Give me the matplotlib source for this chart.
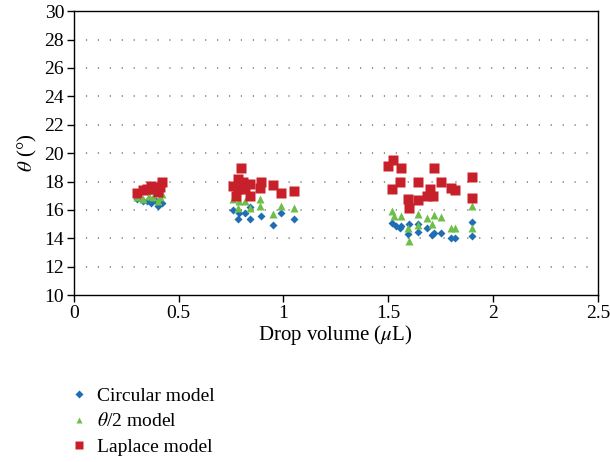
import numpy as np
from matplotlib import pyplot as plt

plt.rcParams['font.family'] = ['Liberation Serif', 'DejaVu Serif']
plt.rcParams['mathtext.fontset'] = 'stix'

# Circular model
circ_x = [0.30, 0.33, 0.35, 0.37, 0.39, 0.40, 0.42,
          0.76, 0.79, 0.816, 0.84, 0.784, 0.84, 0.895, 0.951, 0.99, 1.05,
          1.516, 1.535, 1.56, 1.555, 1.60, 1.64, 1.595, 1.643, 1.683, 1.707,
          1.72, 1.754, 1.80, 1.82, 1.90, 1.90]
circ_y = [16.8, 16.6, 16.6, 16.5, 16.6, 16.3, 16.5,
          15.98, 15.82, 15.82, 16.2, 15.35, 15.35, 15.58, 14.95, 15.82, 15.35,
          15.1, 14.9, 14.88, 14.7, 15.0, 15.0, 14.3, 14.45, 14.76, 14.22,
          14.4, 14.4, 14.05, 14.0, 15.16, 14.17]

# theta/2 model
half_x = [0.30, 0.33, 0.36, 0.38, 0.40, 0.41, 0.42,
          0.76, 0.79, 0.816, 0.784, 0.84, 0.888, 0.89, 0.951, 0.99, 1.05,
          1.516, 1.53, 1.56, 1.64, 1.683, 1.72, 1.75, 1.595, 1.64, 1.707,
          1.60, 1.80, 1.82, 1.90, 1.90]
half_y = [16.9, 16.8, 17.0, 16.9, 16.6, 16.9, 17.1,
          16.76, 16.64, 16.64, 16.17, 16.17, 16.76, 16.3, 15.7, 16.3, 16.13,
          15.95, 15.6, 15.58, 15.7, 15.46, 15.63, 15.53, 14.76, 14.93, 15.0,
          13.8, 14.76, 14.76, 16.29, 14.76]

# Laplace model
lap_x = [0.30, 0.33, 0.35, 0.37, 0.38, 0.40, 0.41, 0.42,
         0.80, 0.784, 0.76, 0.808, 0.84, 0.784, 0.817, 0.776, 0.84, 0.895,
         0.888, 0.951, 0.99, 1.05,
         1.523, 1.50, 1.56, 1.72, 1.555, 1.516, 1.64, 1.75, 1.70, 1.80,
         1.82, 1.90, 1.595, 1.64, 1.683, 1.714, 1.60, 1.90]
lap_y = [17.2, 17.4, 17.5, 17.7, 17.5, 17.3, 17.6, 18.0,
         18.95, 18.18, 17.7, 17.94, 17.8, 17.47, 17.47, 17.0, 17.0, 17.94,
         17.58, 17.77, 17.23, 17.35,
         19.54, 19.07, 18.93, 18.93, 17.99, 17.51, 17.94, 17.94, 17.47, 17.58,
         17.42, 18.29, 16.8, 16.71, 16.95, 16.95, 16.17, 16.83]

fig = plt.figure(figsize=(6.1, 4.62), dpi=100)
ax = fig.add_axes([0.121, 0.361, 0.859, 0.615])

ax.plot(circ_x, circ_y, 'D', color='#1f6db5', markersize=4.5, mec='none', label='Circular model')
ax.plot(half_x, half_y, '^', color='#6dbf4a', markersize=6, mec='none', label=r'$\theta$/2 model')
ax.plot(lap_x, lap_y, 's', color='#c8202b', markersize=6.5, mec='none', label='Laplace model')

ax.set_xlim(0, 2.5)
ax.set_ylim(10, 30)
ax.set_xticks([0, 0.5, 1, 1.5, 2, 2.5])
ax.set_xticklabels(['0', '0.5', '1', '1.5', '2', '2.5'])
ax.set_yticks(np.arange(10, 31, 2))
for yv in range(12, 30, 2):
    ax.axhline(yv, color='#777777', lw=1.1, ls=(0, (0.8, 7)), zorder=0)
ax.tick_params(direction='out', labelsize=14, length=5, width=1, pad=2)
for s in ax.spines.values():
    s.set_linewidth(1)
ax.set_xlabel(r'Drop volume ($\mu$L)', fontsize=15, labelpad=1)
ax.set_ylabel(r'$\theta$ (°)', fontsize=15, labelpad=4)

fig.legend(loc='upper left', bbox_to_anchor=(0.085, 0.2), frameon=False,
           fontsize=14, handletextpad=0.4, labelspacing=0.4, handlelength=1.0,
           markerscale=0.8)

fig.savefig('out.png', dpi=100)
